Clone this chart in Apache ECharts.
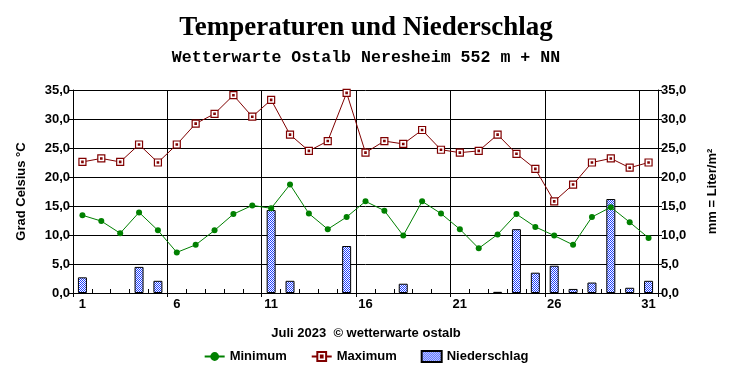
<!DOCTYPE html>
<html>
<head>
<meta charset="utf-8">
<script src="https://cdn.jsdelivr.net/npm/echarts@6/dist/echarts.min.js"></script>
<style>
html,body{margin:0;padding:0;background:#fff;}
#chart{width:732px;height:380px;}
</style>
</head>
<body>
<div id="chart"></div>
<script>
const days = ['1','2','3','4','5','6','7','8','9','10','11','12','13','14','15','16','17','18','19','20','21','22','23','24','25','26','27','28','29','30','31'];
const minimum = [13.4,12.4,10.3,13.9,10.8,7.0,8.3,10.8,13.6,15.1,14.6,18.7,13.7,11.0,13.1,15.8,14.2,9.9,15.8,13.7,11.0,7.7,10.1,13.6,11.4,9.9,8.3,13.1,14.8,12.2,9.5];
const maximum = [22.6,23.2,22.6,25.6,22.5,25.6,29.2,30.9,34.1,30.4,33.3,27.3,24.5,26.2,34.5,24.2,26.2,25.7,28.1,24.7,24.2,24.5,27.3,24.0,21.4,15.8,18.7,22.5,23.2,21.6,22.5];
const niederschlag = [2.7,0,0,4.5,2.1,0,0,0,0,0,14.3,2.1,0,0,8.1,0,0,1.6,0,0,0,0,0.2,11.0,3.5,4.7,0.7,1.8,16.2,0.9,2.1];

const titleText = 'Temperaturen und Niederschlag';
const subText = 'Wetterwarte Ostalb Neresheim 552 m + NN';
const footText = 'Juli 2023  \u00a9 wetterwarte ostalb';
const leftName = 'Grad Celsius \u00b0C';
const rightName = 'mm = Liter/m\u00b2';

const pc = document.createElement('canvas');
pc.width = 2; pc.height = 2;
const pctx = pc.getContext('2d');
pctx.fillStyle = '#ffffff'; pctx.fillRect(0,0,2,2);
pctx.fillStyle = '#2040ff'; pctx.fillRect(0,0,1,1); pctx.fillRect(1,1,1,1);

const sans = '"Liberation Sans", Arial, sans-serif';
const fmt = v => v.toFixed(1).replace('.', ',');

const chart = echarts.init(document.getElementById('chart'), null, {renderer:'canvas'});
chart.setOption({
  animation:false,
  backgroundColor:'#ffffff',
  title:[
    {text:titleText, left:'center', top:10, textStyle:{fontFamily:'"Liberation Serif", "Times New Roman", serif', fontWeight:'bold', fontSize:27, color:'#000'}},
    {text:subText, left:'center', top:44, textStyle:{fontFamily:'"Liberation Mono", "Courier New", monospace', fontWeight:'bold', fontSize:16.6, color:'#000'}},
    {text:footText, left:'center', top:322, textStyle:{fontFamily:sans, fontWeight:'bold', fontSize:13, color:'#000'}}
  ],
  legend:{
    bottom:12, left:'center', itemGap:24, itemWidth:20, itemHeight:11,
    textStyle:{fontFamily:sans, fontWeight:'bold', fontSize:13, color:'#000'},
    data:['Minimum','Maximum',{name:'Niederschlag', icon:'rect'}]
  },
  grid:{left:73, right:74, top:90, bottom:87},
  xAxis:[{
    type:'category', data:days, boundaryGap:true,
    axisLine:{lineStyle:{color:'#000', width:1}},
    axisTick:{show:true, inside:true, length:4, interval:0, lineStyle:{color:'#000'}},
    axisLabel:{interval:(i)=> i%5===0, margin:5, fontFamily:sans, fontWeight:'bold', fontSize:13, color:'#000'},
    splitLine:{show:true, interval:(i)=> i%5===0 && i>0, lineStyle:{color:'#000', width:1}}
  },{
    type:'category', data:days, boundaryGap:true, position:'bottom', offset:0,
    axisLine:{show:false},
    axisTick:{show:true, inside:false, length:4, interval:(i)=> i%5===0, lineStyle:{color:'#000'}},
    axisLabel:{show:false}, splitLine:{show:false}
  }],
  yAxis:[{
    type:'value', min:0, max:35, interval:5, position:'left',
    name:leftName, nameLocation:'middle', nameGap:45, nameRotate:90,
    nameTextStyle:{fontFamily:sans, fontWeight:'bold', fontSize:13, color:'#000'},
    axisLine:{show:true, lineStyle:{color:'#000'}},
    axisTick:{show:true, length:4, lineStyle:{color:'#000'}},
    axisLabel:{formatter:fmt, margin:3, fontFamily:sans, fontWeight:'bold', fontSize:13, color:'#000'},
    splitLine:{show:true, lineStyle:{color:'#000', width:1}}
  },{
    type:'value', min:0, max:35, interval:5, position:'right',
    name:rightName, nameLocation:'middle', nameGap:48, nameRotate:90,
    nameTextStyle:{fontFamily:sans, fontWeight:'bold', fontSize:13, color:'#000'},
    axisLine:{show:true, lineStyle:{color:'#000'}},
    axisTick:{show:true, length:4, lineStyle:{color:'#000'}},
    axisLabel:{formatter:fmt, margin:3, fontFamily:sans, fontWeight:'bold', fontSize:13, color:'#000'},
    splitLine:{show:false}
  }],
  series:[
    {name:'Niederschlag', type:'bar', yAxisIndex:1, data:niederschlag.map(v => v > 0 ? v : '-'), barWidth:9, z:1,
     itemStyle:{color:{image:pc, repeat:'repeat'}, borderColor:'#000', borderWidth:1}},
    {name:'Minimum', type:'line', data:minimum, symbol:'circle', symbolSize:6, z:3,
     lineStyle:{color:'#008000', width:1}, itemStyle:{color:'#008000'}},
    {name:'Maximum', type:'line', data:maximum, symbol:'path://M0,0L10,0L10,10L0,10Z M4,4L6,4L6,6L4,6Z', symbolSize:7, z:3,
     lineStyle:{color:'#800000', width:1}, itemStyle:{color:'#ffffff', borderColor:'#800000', borderWidth:1.2}}
  ]
});
</script>
</body>
</html>
